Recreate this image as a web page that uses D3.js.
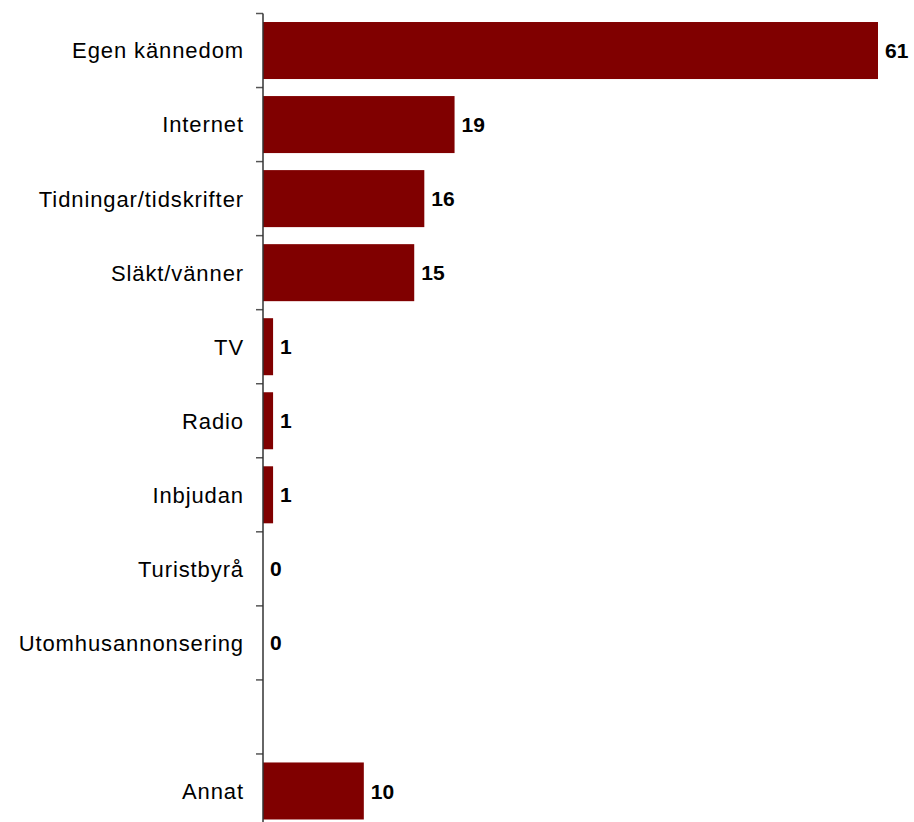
<!DOCTYPE html>
<html>
<head>
<meta charset="utf-8">
<script src="https://cdn.jsdelivr.net/npm/d3@7"></script>
<style>
  html, body { margin: 0; padding: 0; background: #ffffff; }
  svg { display: block; }
</style>
</head>
<body>
<svg id="chart" width="914" height="822"></svg>
<script>
// Source of awareness, counts per category (empty slot before "Annat")
const categories = [
  "Egen kännedom", "Internet", "Tidningar/tidskrifter", "Släkt/vänner",
  "TV", "Radio", "Inbjudan", "Turistbyrå", "Utomhusannonsering", "", "Annat"
];
const values = [61, 19, 16, 15, 1, 1, 1, 0, 0, null, 10];

const svg = d3.select("#chart");
const axisX = 263;
const pad = 0.23;
const fontFamily = "'Liberation Sans', Arial, sans-serif";

const y = d3.scaleBand()
  .domain(categories.map((c, i) => i))
  .range([13.5, 828])
  .paddingInner(pad)
  .paddingOuter(pad / 2);

const x = d3.scaleLinear().domain([0, 61]).range([axisX, 878]);

const rows = categories.map((c, i) => ({ i, label: c, value: values[i] }));

// bars
svg.append("g").selectAll("rect")
  .data(rows.filter(d => d.value !== null && d.value > 0))
  .join("rect")
  .attr("x", axisX)
  .attr("y", d => y(d.i))
  .attr("width", d => x(d.value) - axisX)
  .attr("height", y.bandwidth())
  .attr("fill", "#800000");

// value labels
svg.append("g").selectAll("text")
  .data(rows.filter(d => d.value !== null))
  .join("text")
  .attr("x", d => x(d.value) + 7)
  .attr("y", d => y(d.i) + y.bandwidth() / 2)
  .attr("dy", "0.36em")
  .style("font-family", fontFamily)
  .attr("font-size", 21)
  .attr("font-weight", "bold")
  .attr("fill", "#000")
  .text(d => d.value);

// category labels
svg.append("g").selectAll("text")
  .data(rows.filter(d => d.label !== ""))
  .join("text")
  .attr("x", 244)
  .attr("y", d => y(d.i) + y.bandwidth() / 2)
  .attr("dy", "0.36em")
  .attr("text-anchor", "end")
  .style("font-family", fontFamily)
  .attr("font-size", 22)
  .attr("letter-spacing", "0.9px")
  .attr("fill", "#000")
  .text(d => d.label);

// category axis with ticks between bands
const axis = svg.append("g");
axis.selectAll("line.tick")
  .data(rows)
  .join("line")
  .attr("class", "tick")
  .attr("x1", axisX - 7)
  .attr("x2", axisX)
  .attr("y1", d => y(d.i) - y.step() * pad / 2)
  .attr("y2", d => y(d.i) - y.step() * pad / 2)
  .attr("stroke", "#555")
  .attr("stroke-width", 1.5);

axis.append("line")
  .attr("x1", axisX)
  .attr("x2", axisX)
  .attr("y1", y.range()[0])
  .attr("y2", y.range()[1])
  .attr("stroke", "#333")
  .attr("stroke-width", 1.5);
</script>
</body>
</html>
